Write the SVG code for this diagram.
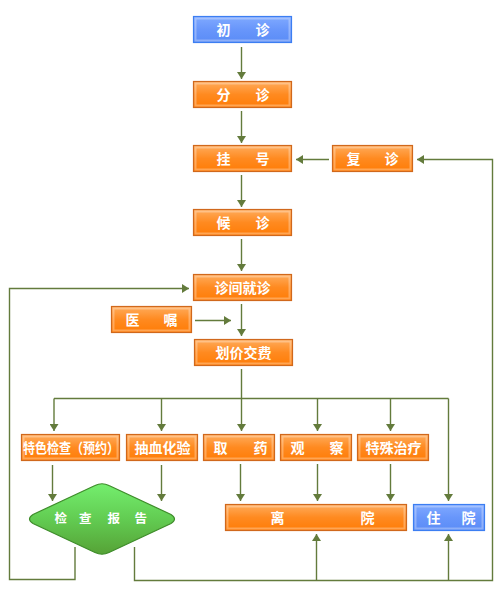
<svg xmlns="http://www.w3.org/2000/svg" width="500" height="595" viewBox="0 0 500 595">
<style>
.box{stroke-width:1.2}
.or{fill:url(#gOr);stroke:#d0681c}
.bl{fill:url(#gBl);stroke:#3c7ef2}
.glow{fill:none;stroke:#ffffff;stroke-opacity:0.3;stroke-width:2}
.t{font-family:"Noto Sans CJK SC","Liberation Sans",sans-serif;font-size:14px;font-weight:bold;fill:#ffffff}
.c{fill:none;stroke:#637b3c;stroke-width:1.4}
.a{marker-end:url(#ah)}
</style>
<defs>
<linearGradient id="gOr" x1="0" y1="0" x2="0" y2="1">
<stop offset="0" stop-color="#ffac5c"/>
<stop offset="0.5" stop-color="#ff8a20"/>
<stop offset="1" stop-color="#ff7c06"/>
</linearGradient>
<linearGradient id="gBl" x1="0" y1="0" x2="0" y2="1">
<stop offset="0" stop-color="#80aaff"/>
<stop offset="0.5" stop-color="#6896fb"/>
<stop offset="1" stop-color="#5a8cf6"/>
</linearGradient>
<linearGradient id="gGr" x1="0" y1="0" x2="0" y2="1">
<stop offset="0" stop-color="#74ee6e"/>
<stop offset="0.5" stop-color="#62cc52"/>
<stop offset="1" stop-color="#56a236"/>
</linearGradient>
<marker id="ah" markerUnits="userSpaceOnUse" markerWidth="7" markerHeight="9" viewBox="0 0 7 9" refX="7" refY="4.5" orient="auto">
<path d="M0,0 L7,4.5 L0,9 z" fill="#637b3c"/>
</marker>
</defs>

<g id="connectors">
<path class="c a" d="M241.5,47 V79"/>
<path class="c a" d="M241.5,111 V143"/>
<path class="c a" d="M241.5,175 V207"/>
<path class="c a" d="M241.5,239 V271"/>
<path class="c a" d="M241.5,304 V336"/>
<path class="c a" d="M195,320.5 H231"/>
<path class="c a" d="M329,159.5 H296"/>
<path class="c a" d="M134.5,547 V580.5 H492.5 V159.5 H417"/>
<path class="c a" d="M75,547 V579.5 H9.5 V288.5 H189"/>
<path class="c" d="M241.5,369 V398.5 M54,398.5 H448.5"/>
<path class="c a" d="M54,398.5 V431"/>
<path class="c a" d="M161.5,398.5 V431"/>
<path class="c a" d="M241.5,398.5 V431"/>
<path class="c a" d="M317.5,398.5 V431"/>
<path class="c a" d="M390.5,398.5 V431"/>
<path class="c a" d="M448.5,398.5 V501"/>
<path class="c a" d="M52.5,465 V501"/>
<path class="c a" d="M161.5,465 V501"/>
<path class="c a" d="M240.5,464 V501"/>
<path class="c a" d="M317.5,464 V501"/>
<path class="c a" d="M390.5,464 V501"/>
<path class="c a" d="M316.5,580.5 V534"/>
<path class="c a" d="M448.5,580.5 V534"/>
</g>

<g id="chuzhen"><rect class="box bl" x="193.5" y="16.5" width="98" height="26"/><rect class="glow" x="195.5" y="18.5" width="94" height="22"/><text class="t" x="216.5 255.5" y="34.5">初诊</text></g>
<g id="fenzhen"><rect class="box or" x="193.5" y="81.5" width="98" height="26"/><rect class="glow" x="195.5" y="83.5" width="94" height="22"/><text class="t" x="216.5 255.5" y="99.5">分诊</text></g>
<g id="guahao"><rect class="box or" x="193.5" y="145.5" width="98" height="26"/><rect class="glow" x="195.5" y="147.5" width="94" height="22"/><text class="t" x="216.5 255.5" y="163.5">挂号</text></g>
<g id="fuzhen"><rect class="box or" x="332.5" y="145.5" width="80" height="26"/><rect class="glow" x="334.5" y="147.5" width="76" height="22"/><text class="t" x="346.5 384.5" y="163.5">复诊</text></g>
<g id="houzhen"><rect class="box or" x="193.5" y="209.5" width="98" height="26"/><rect class="glow" x="195.5" y="211.5" width="94" height="22"/><text class="t" x="216.5 255.5" y="227.5">候诊</text></g>
<g id="zhenjian"><rect class="box or" x="193.5" y="274.5" width="98" height="26"/><rect class="glow" x="195.5" y="276.5" width="94" height="22"/><text class="t" x="242.5" y="292.5" text-anchor="middle">诊间就诊</text></g>
<g id="yizhu"><rect class="box or" x="111.5" y="306.5" width="80" height="26"/><rect class="glow" x="113.5" y="308.5" width="76" height="22"/><text class="t" x="125.5 163.5" y="324.5">医嘱</text></g>
<g id="huajia"><rect class="box or" x="194.5" y="339.5" width="98" height="26"/><rect class="glow" x="196.5" y="341.5" width="94" height="22"/><text class="t" x="243.5" y="357.5" text-anchor="middle">划价交费</text></g>
<g id="tese"><rect class="box or" x="21.5" y="434.5" width="98" height="26"/><rect class="glow" x="23.5" y="436.5" width="94" height="22"/><text class="t" x="23" y="452.5" textLength="96" lengthAdjust="spacingAndGlyphs">特色检查（预约）</text></g>
<g id="chouxue"><rect class="box or" x="126.5" y="434.5" width="71" height="26"/><rect class="glow" x="128.5" y="436.5" width="67" height="22"/><text class="t" x="162.5" y="452.5" text-anchor="middle">抽血化验</text></g>
<g id="quyao"><rect class="box or" x="203.5" y="434.5" width="71" height="26"/><rect class="glow" x="205.5" y="436.5" width="67" height="22"/><text class="t" x="213.5 253.5" y="452.5">取药</text></g>
<g id="guancha"><rect class="box or" x="280.5" y="434.5" width="71" height="26"/><rect class="glow" x="282.5" y="436.5" width="67" height="22"/><text class="t" x="290.5 329.5" y="452.5">观察</text></g>
<g id="teshu"><rect class="box or" x="357.5" y="434.5" width="71" height="26"/><rect class="glow" x="359.5" y="436.5" width="67" height="22"/><text class="t" x="393.5" y="452.5" text-anchor="middle">特殊治疗</text></g>
<g id="liyuan"><rect class="box or" x="225.5" y="504.5" width="181" height="26"/><rect class="glow" x="227.5" y="506.5" width="177" height="22"/><text class="t" x="270.5 360.5" y="522.5">离院</text></g>
<g id="zhuyuan"><rect class="box bl" x="413.5" y="504.5" width="71" height="26"/><rect class="glow" x="415.5" y="506.5" width="67" height="22"/><text class="t" x="426.5 461.5" y="522.5">住院</text></g>
<g id="baogao"><path d="M95,485.5 Q102,482 109,485.5 L171,514.5 Q178,519 171,523.5 L109,552.5 Q102,556 95,552.5 L33,523.5 Q26,519 33,514.5 Z" fill="url(#gGr)" stroke="#3e8c2a" stroke-width="1.2"/><text class="t" style="font-size:12.5px" x="54.5 79 107.5 134.5" y="523">检查报告</text></g>
</svg>
